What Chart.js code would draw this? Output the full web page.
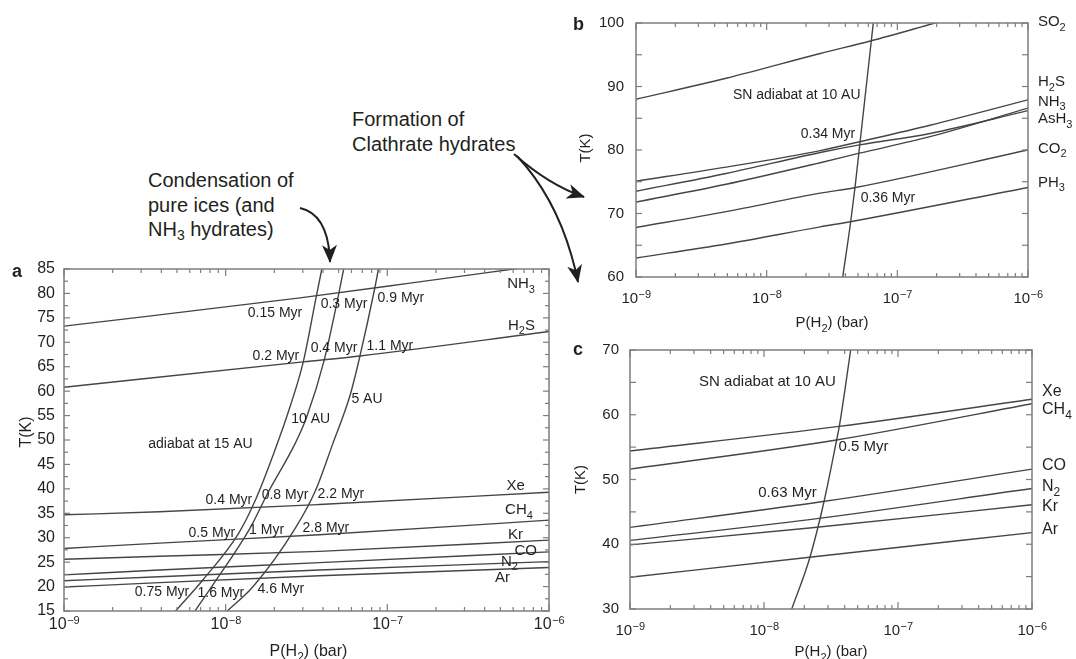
<!DOCTYPE html>
<html>
<head>
<meta charset="utf-8">
<title>Condensation and clathration curves</title>
<script src="https://cdn.jsdelivr.net/npm/chart.js@4.4.1/dist/chart.umd.min.js"></script>
<style>
  body { margin: 0; background: #fff; }
  #page { position: relative; width: 1076px; height: 659px; overflow: hidden; font-family: "Liberation Sans", Arial, sans-serif; color: #231f20; }
  #page canvas { position: absolute; }
  .note { position: absolute; font-size: 20px; white-space: nowrap; }
  .note sub { font-size: 14px; vertical-align: baseline; position: relative; top: 4px; }
  svg { position: absolute; left: 0; top: 0; }
</style>
</head>
<body>
<div id="page">
  <canvas id="chartA" width="570" height="409" style="left:0;top:250px"></canvas>
  <canvas id="chartB" width="506" height="334" style="left:570px;top:0"></canvas>
  <canvas id="chartC" width="506" height="329" style="left:570px;top:330px"></canvas>
  <div class="note" style="left:148px;top:168px;line-height:24.5px">Condensation of<br>pure ices (and<br>NH<sub>3</sub> hydrates)</div>
  <div class="note" style="left:352px;top:107px;line-height:25px">Formation of<br>Clathrate hydrates</div>
  <svg width="1076" height="659">
    <defs>
      <marker id="head" markerUnits="userSpaceOnUse" markerWidth="19" markerHeight="15" refX="17" refY="7.5" orient="auto">
        <path d="M0,0 L18,7.5 L0,15 L5,7.5 Z" fill="#231f20"/>
      </marker>
    </defs>
    <g fill="none" stroke="#231f20" stroke-width="2">
      <path d="M300,208 C318,212 329,228 330,262" marker-end="url(#head)"/>
      <path d="M514,154 C533,171 555,187 584,197" marker-end="url(#head)"/>
      <path d="M517,156 C545,186 567,228 578,282" marker-end="url(#head)"/>
    </g>
  </svg>
</div>
<script>
// every point is [log10 P(H2) in bar, T in K]

// panel a: pure condensation curves
const aNH3 = [[-9, 73.3], [-7.54, 79.1], [-6.86, 82.1], [-6.22, 85.0], [-6, 86.0]];
const aH2S = [[-9, 60.8], [-7.52, 66.0], [-7.17, 67.2], [-6, 72.2]];
const aXe = [[-9, 34.7], [-8.41, 35.3], [-7.42, 36.8], [-6, 39.3]];
const aCH4 = [[-9, 27.8], [-8.41, 28.9], [-7.42, 30.6], [-6, 33.6]];
const aKr = [[-9, 25.6], [-8.41, 26.2], [-7.42, 27.2], [-6, 29.5]];
const aCO = [[-9, 22.4], [-8.41, 23.4], [-7.42, 24.9], [-6, 27.1]];
const aN2 = [[-9, 21.2], [-8.41, 22.0], [-7.42, 23.4], [-6, 25.1]];
const aAr = [[-9, 19.9], [-8.41, 20.8], [-7.42, 22.2], [-6, 23.9]];
// panel a: disk adiabats
const aAd15 = [[-8.31, 15], [-8.14, 21.4], [-7.92, 30.9], [-7.82, 37.4], [-7.70, 47.5], [-7.60, 57.0], [-7.52, 66.0], [-7.44, 79.3], [-7.405, 85]];
const aAd10 = [[-8.19, 15], [-8.08, 20.3], [-7.85, 31.9], [-7.74, 39.1], [-7.57, 49.3], [-7.50, 54.6], [-7.39, 66.4], [-7.30, 80.0], [-7.27, 85]];
const aAd5 = [[-7.99, 15], [-7.83, 20.0], [-7.57, 31.9], [-7.445, 39.6], [-7.34, 49.0], [-7.23, 59.2], [-7.17, 67.1], [-7.08, 80.7], [-7.055, 85]];

// panel b: clathrate hydrates
const bSO2 = [[-9, 88.0], [-8.31, 91.3], [-7.59, 95.2], [-7.20, 97.2], [-6.71, 100]];
const bH2S = [[-9, 75.1], [-8.31, 77.3], [-7.59, 79.9], [-7.29, 81.3], [-6.75, 83.9], [-6, 87.9]];
const bNH3 = [[-9, 71.8], [-8.31, 74.6], [-7.59, 78.0], [-7.29, 79.5], [-6.75, 82.1], [-6, 86.6]];
const bAsH3 = [[-9, 73.5], [-8.31, 76.3], [-7.59, 79.6], [-7.29, 80.8], [-6.75, 82.6], [-6, 86.2]];
const bCO2 = [[-9, 67.8], [-8.31, 70.3], [-7.59, 73.2], [-7.32, 74.1], [-6, 80.0]];
const bPH3 = [[-9, 63.0], [-8.31, 65.2], [-7.59, 67.9], [-7.36, 68.7], [-6, 74.1]];
const bSN = [[-7.418, 60], [-7.357, 68.7], [-7.324, 74.1], [-7.286, 81.1], [-7.184, 100]];

// panel c: clathrate hydrates
const cXe = [[-9, 54.4], [-7.44, 58.2], [-6, 62.4]];
const cCH4 = [[-9, 51.6], [-7.46, 56.1], [-6, 61.7]];
const cCO = [[-9, 42.6], [-7.56, 46.6], [-6, 51.6]];
const cN2 = [[-9, 40.6], [-7.66, 43.8], [-6, 48.6]];
const cKr = [[-9, 39.9], [-7.66, 42.5], [-6, 46.1]];
const cAr = [[-9, 34.9], [-7.66, 38.0], [-6, 41.8]];
const cSN = [[-7.793, 30], [-7.657, 38.0], [-7.552, 46.6], [-7.458, 56.1], [-7.438, 58.2], [-7.353, 70]];

// text placed on the plots: [text, log10 P, T]  (_x = subscript x)
const aNotes = [
  ['0.15 Myr', -7.695, 76.2], ['0.3 Myr', -7.268, 78.1], ['0.9 Myr', -6.916, 79.3],
  ['0.2 Myr', -7.689, 67.4], ['0.4 Myr', -7.330, 69.1], ['1.1 Myr', -6.984, 69.4],
  ['10 AU', -7.474, 54.6], ['5 AU', -7.126, 58.7], ['adiabat at 15 AU', -8.156, 49.3],
  ['0.4 Myr', -7.980, 37.9], ['0.8 Myr', -7.633, 39.0], ['2.2 Myr', -7.287, 39.2],
  ['0.5 Myr', -8.085, 31.1], ['1 Myr', -7.747, 31.8], ['2.8 Myr', -7.380, 32.2],
  ['0.75 Myr', -8.394, 19.1], ['1.6 Myr', -8.030, 18.8], ['4.6 Myr', -7.659, 19.8]
];
const aNames = [
  ['NH_3', -6.087, 82.2], ['H_2S', -6.087, 73.7], ['Xe', -6.149, 40.8], ['CH_4', -6.100, 35.9],
  ['Kr', -6.161, 30.8], ['CO', -6.075, 27.5], ['N_2', -6.192, 25.4], ['Ar', -6.242, 22.0]
];
const bNotes = [['SN adiabat at 10 AU', -7.770, 88.8], ['0.34 Myr', -7.531, 82.7], ['0.36 Myr', -7.072, 72.6]];
const bNames = [
  ['SO_2', -5.924, 100.3], ['H_2S', -5.924, 90.9], ['NH_3', -5.924, 87.8],
  ['AsH_3', -5.924, 85.1], ['CO_2', -5.924, 80.4], ['PH_3', -5.924, 75.1]
];
const cNotes = [['SN adiabat at 10 AU', -7.974, 65.3], ['0.63 Myr', -7.825, 48.1], ['0.5 Myr', -7.257, 55.2]];
const cNames = [
  ['Xe', -5.925, 63.8], ['CH_4', -5.925, 61.0], ['CO', -5.925, 52.4],
  ['N_2', -5.925, 49.1], ['Kr', -5.925, 46.1], ['Ar', -5.925, 42.5]
];

const FONT = '"Liberation Sans", Arial, sans-serif';
const INK = '#231f20';
const LINE = '#454545';
const FRAME = '#7d7d7d';

const toXY = arr => arr.map(([lp, t]) => ({ x: Math.pow(10, lp), y: t }));

// draws a formula like 'NH_3' with the text centred vertically on y
function chem(ctx, s, x, y, size, align) {
  const parts = [];
  for (let i = 0; i < s.length; i++) {
    if (s[i] === '_') { parts.push({ t: s[i + 1], sub: true }); i++; }
    else if (parts.length && !parts[parts.length - 1].sub) parts[parts.length - 1].t += s[i];
    else parts.push({ t: s[i], sub: false });
  }
  const subSize = Math.round(size * 0.72);
  let w = 0;
  parts.forEach(p => {
    ctx.font = (p.sub ? subSize : size) + 'px ' + FONT;
    p.w = ctx.measureText(p.t).width;
    w += p.w;
  });
  let cx = align === 'right' ? x - w : align === 'center' ? x - w / 2 : x;
  const base = y + size * 0.36;
  ctx.textAlign = 'left';
  ctx.textBaseline = 'alphabetic';
  parts.forEach(p => {
    ctx.font = (p.sub ? subSize : size) + 'px ' + FONT;
    ctx.fillText(p.t, cx, p.sub ? base + size * 0.3 : base);
    cx += p.w;
  });
}

function framePlugin(p) {
  return {
    id: 'frame',
    afterDraw(chart) {
      const { ctx, chartArea: a } = chart;
      const xs = chart.scales.x, ys = chart.scales.y;
      const seg = (x1, y1, x2, y2) => { ctx.beginPath(); ctx.moveTo(x1, y1); ctx.lineTo(x2, y2); ctx.stroke(); };
      ctx.save();
      ctx.strokeStyle = FRAME;
      ctx.lineWidth = 1.2;
      // inward ticks on left and right
      const n = Math.round((p.yMax - p.yMin) / p.yMinor);
      for (let k = 0; k <= n; k++) {
        const v = p.yMin + k * p.yMinor;
        const py = ys.getPixelForValue(v);
        const len = Math.abs(v / p.yStep - Math.round(v / p.yStep)) < 1e-6 ? 6 : p.minorLen;
        seg(a.left, py, a.left + len, py);
        seg(a.right, py, a.right - len, py);
      }
      // log ticks on top and bottom
      for (let d = -9; d <= -6; d++) {
        for (let m = 1; m <= 9; m++) {
          if (d === -6 && m > 1) break;
          const px = xs.getPixelForValue(m * Math.pow(10, d));
          const len = m === 1 ? 7 : 4;
          seg(px, a.bottom, px, a.bottom - len);
          seg(px, a.top, px, a.top + len);
        }
      }
      ctx.lineWidth = 1.5;
      ctx.strokeRect(a.left, a.top, a.right - a.left, a.bottom - a.top);

      ctx.fillStyle = INK;
      // decade labels 10^-9 ... 10^-6
      const big = p.tickSize + 'px ' + FONT, small = Math.round(p.tickSize * 0.7) + 'px ' + FONT;
      ctx.textAlign = 'left';
      ctx.textBaseline = 'alphabetic';
      for (let d = -9; d <= -6; d++) {
        const px = xs.getPixelForValue(Math.pow(10, d));
        ctx.font = big;
        const w1 = ctx.measureText('10').width;
        const sup = '\u2212' + (-d);
        ctx.font = small;
        const w2 = ctx.measureText(sup).width;
        const x0 = px - (w1 + w2) / 2;
        const by = a.bottom + p.xLabDy;
        ctx.font = big;
        ctx.fillText('10', x0, by);
        ctx.font = small;
        ctx.fillText(sup, x0 + w1 + 0.5, by - p.tickSize * 0.32);
      }
      // axis titles
      chem(ctx, 'P(H_2) (bar)', (a.left + a.right) / 2 + p.xTitleDx, a.bottom + p.xTitleDy, p.titleSize, 'center');
      ctx.save();
      ctx.translate(a.left - p.yTitleDx, (a.top + a.bottom) / 2 + p.yTitleDy);
      ctx.rotate(-Math.PI / 2);
      chem(ctx, 'T(K)', 0, 0, p.titleSize, 'center');
      ctx.restore();
      // notes and species names
      p.notes.forEach(([txt, lp, t]) => chem(ctx, txt, xs.getPixelForValue(Math.pow(10, lp)), ys.getPixelForValue(t), p.noteSize, 'center'));
      p.names.forEach(([txt, lp, t]) => chem(ctx, txt, xs.getPixelForValue(Math.pow(10, lp)), ys.getPixelForValue(t), p.nameSize, p.nameAlign));
      // panel letter
      ctx.font = 'bold 18px ' + FONT;
      ctx.textAlign = 'left';
      ctx.textBaseline = 'alphabetic';
      ctx.fillText(p.letter, p.letterX, p.letterY);
      ctx.restore();
    }
  };
}

function makePanel(id, p) {
  const datasets = p.series.map(s => ({
    data: toXY(s),
    borderColor: LINE,
    borderWidth: 1.4,
    pointRadius: 0,
    cubicInterpolationMode: 'monotone',
    fill: false
  }));
  return new Chart(document.getElementById(id), {
    type: 'line',
    data: { datasets },
    options: {
      responsive: false,
      animation: false,
      events: [],
      layout: { padding: p.pad },
      plugins: { legend: { display: false }, tooltip: { enabled: false } },
      scales: {
        x: {
          type: 'logarithmic', min: 1e-9, max: 1e-6,
          ticks: { display: false },
          grid: { display: false },
          border: { display: false },
          afterFit: s => { s.height = p.xH; }
        },
        y: {
          min: p.yMin, max: p.yMax,
          ticks: { stepSize: p.yLabelStep, autoSkip: false, padding: p.yPad, color: INK, font: { family: FONT, size: p.tickSize } },
          grid: { display: false, drawTicks: false },
          border: { display: false },
          afterFit: s => { s.width = p.yW; }
        }
      }
    },
    plugins: [framePlugin(p)]
  });
}

makePanel('chartA', {
  series: [aNH3, aH2S, aXe, aCH4, aKr, aCO, aN2, aAr, aAd15, aAd10, aAd5],
  notes: aNotes, names: aNames, nameAlign: 'right',
  pad: { left: 0, top: 19, right: 21, bottom: 0 }, xH: 48, yW: 64, yPad: 9,
  yMin: 15, yMax: 85, yLabelStep: 5, yStep: 5, yMinor: 2.5, minorLen: 4,
  tickSize: 16, titleSize: 16, noteSize: 14, nameSize: 15,
  xLabDy: 18, xTitleDx: 2, xTitleDy: 39, yTitleDx: 39, yTitleDy: -8,
  letter: 'a', letterX: 12, letterY: 27
});

makePanel('chartB', {
  series: [bSO2, bH2S, bNH3, bAsH3, bCO2, bPH3, bSN],
  notes: bNotes, names: bNames, nameAlign: 'left',
  pad: { left: 0, top: 23, right: 48, bottom: 0 }, xH: 57, yW: 66, yPad: 12,
  yMin: 60, yMax: 100, yLabelStep: 10, yStep: 5, yMinor: 5, minorLen: 6,
  tickSize: 15, titleSize: 15, noteSize: 14, nameSize: 15,
  xLabDy: 26, xTitleDx: 0, xTitleDy: 45, yTitleDx: 51, yTitleDy: -2,
  letter: 'b', letterX: 3, letterY: 30
});

makePanel('chartC', {
  series: [cXe, cCH4, cCO, cN2, cKr, cAr, cSN],
  notes: cNotes, names: cNames, nameAlign: 'left',
  pad: { left: 0, top: 16, right: 44, bottom: 0 }, xH: 50, yW: 60, yPad: 11,
  yMin: 30, yMax: 70, yLabelStep: 10, yStep: 5, yMinor: 5, minorLen: 6,
  tickSize: 15, titleSize: 15, noteSize: 15, nameSize: 16,
  xLabDy: 26, xTitleDx: 0, xTitleDy: 42, yTitleDx: 50, yTitleDy: 0,
  letter: 'c', letterX: 3, letterY: 25
});
</script>
</body>
</html>
